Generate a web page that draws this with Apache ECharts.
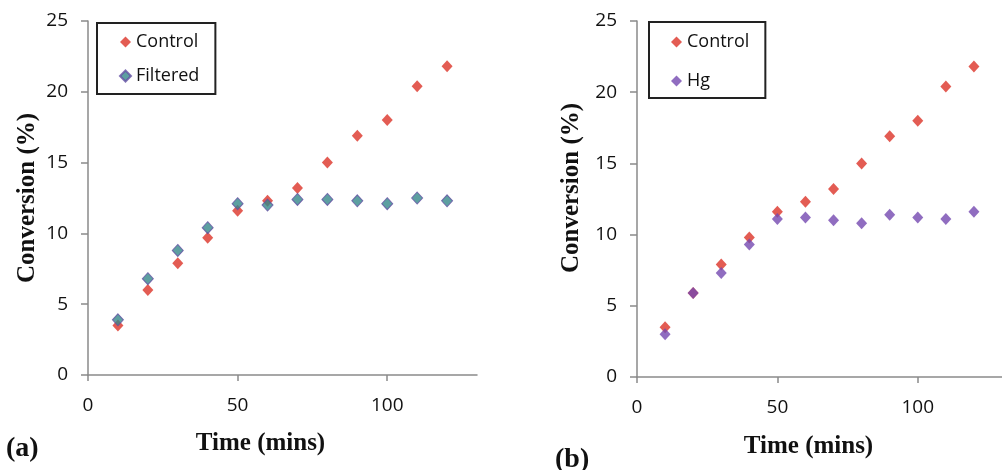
<!DOCTYPE html>
<html><head><meta charset="utf-8">
<script src="https://cdn.jsdelivr.net/npm/echarts@6/dist/echarts.min.js"></script>
<style>html,body{margin:0;padding:0;background:#fff}#c{width:1002px;height:470px}</style>
</head><body><div id="c"></div>
<script>
const time = [10,20,30,40,50,60,70,80,90,100,110,120];
const controlA = [3.5,6.0,7.9,9.7,11.6,12.3,13.2,15.0,16.9,18.0,20.4,21.8];
const filteredA = [3.9,6.8,8.8,10.4,12.1,12.0,12.4,12.4,12.3,12.1,12.5,12.3];
const controlB = [3.5,5.9,7.9,9.8,11.6,12.3,13.2,15.0,16.9,18.0,20.4,21.8];
const hgB = [3.0,5.9,7.3,9.3,11.1,11.2,11.0,10.8,11.4,11.2,11.1,11.6];
const xTicks = [0,50,100];
const yTicks = [0,5,10,15,20,25];
const xTitle = 'Time (mins)';
const yTitle = 'Conversion (%)';

const pair = (xs, ys) => xs.map((x,i)=>[x, ys[i]]);
const RED = '#dc3328', TEAL = '#35878a', PURPLE = '#7449b0';
const tickFont = {fontFamily:'Open Sans', fontSize:19, color:'#111'};
const titleFont = {fontFamily:'Liberation Serif', fontWeight:'bold', fontSize:25, color:'#111'};
const axisLine = {show:true, lineStyle:{color:'#8a8a8a', width:1.5}};

function xAx(gi, gap, shift){
  return {gridIndex:gi, type:'value', min:0, max:130, interval:50,
    name:xTitle, nameLocation:'middle', nameGap:gap,
    nameTextStyle:Object.assign({padding:[0, shift, 0, 0]}, titleFont),
    axisLine:axisLine, splitLine:{show:false},
    axisTick:{show:true, inside:false, length:6, customValues:xTicks, lineStyle:{color:'#8a8a8a', width:1.5}},
    axisLabel:Object.assign({margin:21, customValues:xTicks}, tickFont)};
}
function yAx(gi, gap, shift){
  return {gridIndex:gi, type:'value', min:0, max:25, interval:5,
    name:yTitle, nameLocation:'middle', nameGap:gap, nameRotate:90,
    nameTextStyle:Object.assign({padding:[0, 0, 0, shift]}, titleFont),
    axisLine:axisLine, splitLine:{show:false},
    axisTick:{show:true, inside:false, length:7, lineStyle:{color:'#8a8a8a', width:1.5}},
    axisLabel:Object.assign({margin:20, customValues:yTicks}, tickFont)};
}
const legendBase = {orient:'vertical', backgroundColor:'#fff', borderColor:'#222', borderWidth:2,
  itemWidth:11, itemHeight:11, icon:'diamond',
  textStyle:{fontFamily:'Open Sans', fontSize:18, color:'#111'}};

const chart = echarts.init(document.getElementById('c'), null, {renderer:'canvas'});
chart.setOption({
  animation:false,
  backgroundColor:'#fff',
  grid:[
    {left:88, top:21, width:389, height:354},
    {left:637, top:21, width:377, height:356}
  ],
  xAxis:[xAx(0, 56, 44), xAx(1, 57, 22)],
  yAxis:[yAx(0, 48, 0), yAx(1, 53, 22)],
  legend:[
    Object.assign({}, legendBase, {left:97, top:23, itemGap:16, padding:[10,16,9,22], data:['Control','Filtered']}),
    Object.assign({}, legendBase, {left:649, top:22, itemGap:21, padding:[11,16,8,22], data:['Control','Hg']})
  ],
  graphic:[
    {type:'text', left:6, top:435, style:{text:'(a)', font:'bold 28px "Liberation Serif"', fill:'#111'}},
    {type:'text', left:555, top:446, style:{text:'(b)', font:'bold 28px "Liberation Serif"', fill:'#111'}}
  ],
  series:[
    {name:'Control', type:'scatter', xAxisIndex:0, yAxisIndex:0, symbol:'diamond', symbolSize:[11,12], itemStyle:{color:RED}, data:pair(time, controlA)},
    {name:'Filtered', type:'scatter', xAxisIndex:0, yAxisIndex:0, symbol:'diamond', symbolSize:[11,12], itemStyle:{color:TEAL, borderColor:'#6450a4', borderWidth:1}, data:pair(time, filteredA)},
    {name:'Control', type:'scatter', xAxisIndex:1, yAxisIndex:1, symbol:'diamond', symbolSize:[11,12], itemStyle:{color:RED}, data:pair(time, controlB)},
    {name:'Hg', type:'scatter', xAxisIndex:1, yAxisIndex:1, symbol:'diamond', symbolSize:[11,12], itemStyle:{color:PURPLE}, data:pair(time, hgB)}
  ]
});
</script></body></html>
